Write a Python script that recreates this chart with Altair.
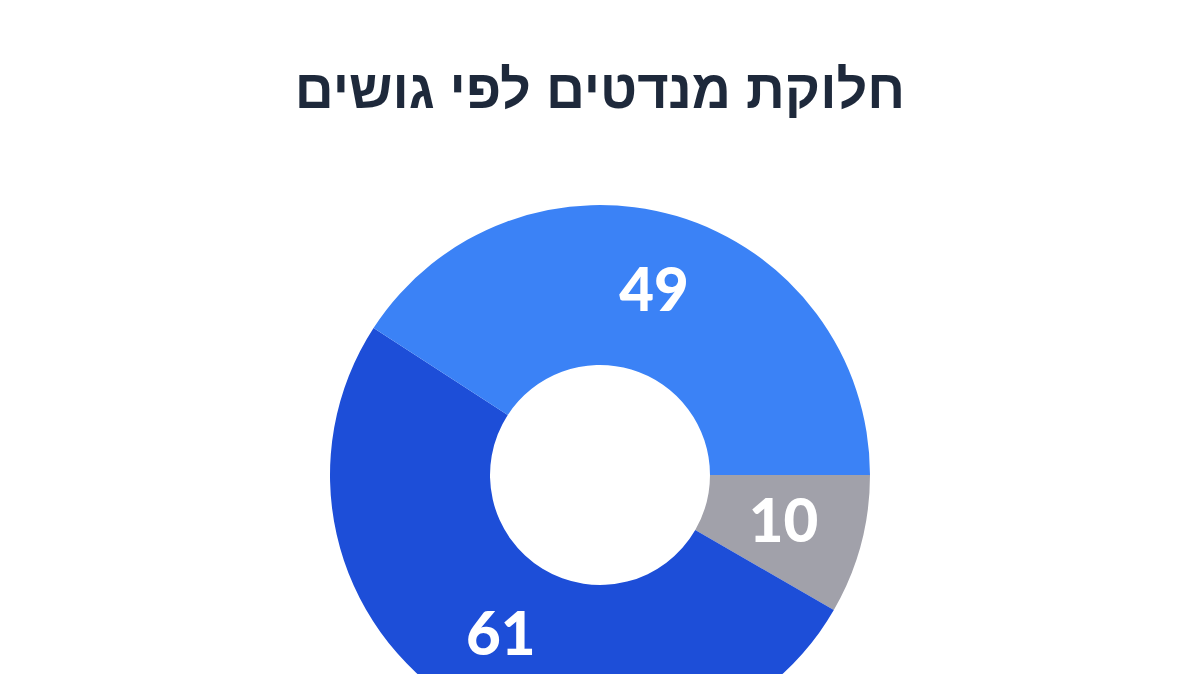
import altair as alt
import pandas as pd
import math

title_text = "חלוקת מנדטים לפי גושים"
blocs = ["other", "right", "left"]
seats = [10, 61, 49]
colors = ["#A1A1AA", "#1D4ED8", "#3B82F6"]

df = pd.DataFrame({"bloc": blocs, "seats": seats, "order": [0, 1, 2]})

W, H = 1184, 658
cx, cy = 592, 467

base = alt.Chart(df).encode(
    theta=alt.Theta("seats:Q", stack=True,
                    scale=alt.Scale(range=[math.pi / 2, math.pi / 2 + 2 * math.pi])),
    order=alt.Order("order:Q"),
)

arcs = base.mark_arc(innerRadius=110, outerRadius=270, x=cx, y=cy).encode(
    color=alt.Color("bloc:N", scale=alt.Scale(domain=blocs, range=colors), legend=None)
)

labels = base.mark_text(radius=190, x=cx, y=cy, fontSize=60, fontWeight=900,
                        font="Lato", fill="white", align="center",
                        baseline="middle").encode(text="seats:Q")

title_df = pd.DataFrame({"t": [title_text]})
title = alt.Chart(title_df).mark_text(
    x=cx, y=84, fontSize=54, fontWeight="bold", font="Liberation Sans",
    fill="#1E293B", align="center", baseline="middle"
).encode(text="t:N")

chart = alt.layer(arcs, labels, title).properties(width=W, height=H).configure_view(
    strokeWidth=0
).configure(padding=0)

chart.save("out.html", embed_options={"renderer": "svg", "actions": False})
